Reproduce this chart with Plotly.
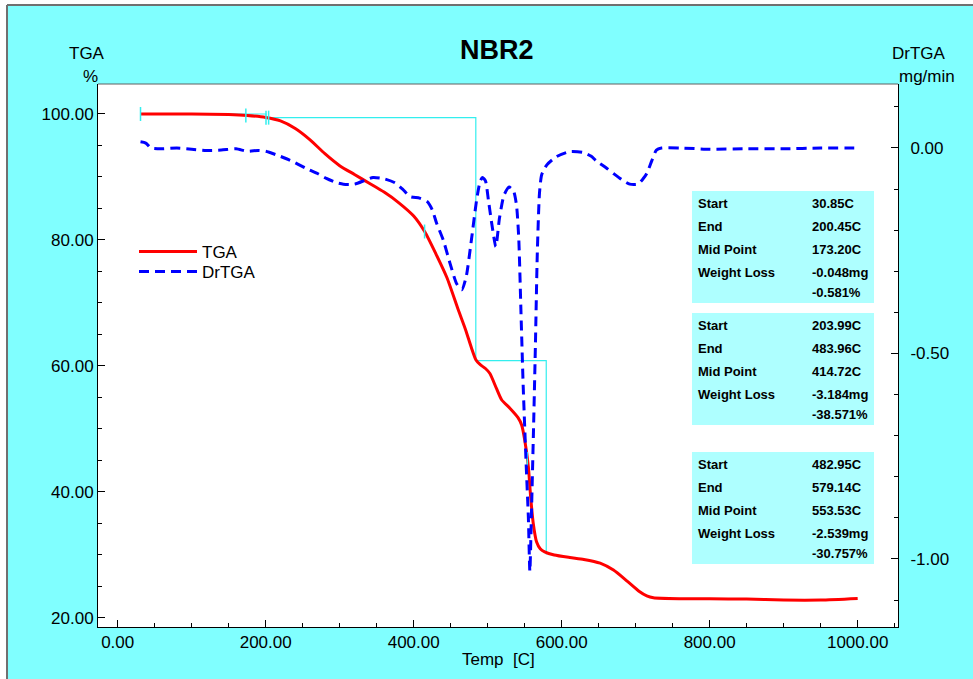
import numpy as np
import plotly.graph_objects as go

# ---------------- data ----------------
tga_temp = [30.85, 50, 100, 150, 175, 200, 220, 240, 260, 280, 300, 320, 340, 360, 380,
            400, 415, 430, 445, 460, 470, 478, 484, 490, 497, 503, 512, 519, 530, 541,
            546, 550, 555, 558, 561.6, 566, 571, 577, 590, 611, 630, 652, 670, 688, 705,
            715, 724, 760, 800, 850, 900, 950, 1000]
tga_pct = [100.0, 100.0, 100.0, 99.9, 99.75, 99.45, 98.9, 97.7, 95.9, 93.7, 91.8, 90.4, 89.0, 87.6, 85.9,
           83.8, 81.3, 77.8, 74.0, 69.0, 65.8, 62.9, 61.0, 60.2, 59.6, 58.8, 56.4, 54.6, 53.3, 51.8,
           50.6, 48.3, 44.0, 39.3, 35.0, 32.1, 31.0, 30.5, 30.0, 29.6, 29.3, 28.7, 27.6, 25.9, 24.2,
           23.5, 23.2, 23.05, 23.05, 23.0, 22.85, 22.85, 23.1]

dr_temp = [30.85, 38, 45, 60, 80, 100, 120, 140, 160, 175, 190, 200, 215, 233, 255, 270, 282,
           295, 305, 320, 335, 345, 360, 375, 385, 395, 408, 418, 425, 431, 440, 449, 458,
           465, 471, 478, 485, 490, 493, 497, 501, 506, 511, 516, 522, 529, 535, 539, 542,
           545, 548, 552, 555, 557, 559, 562, 564.5, 567, 570, 573, 580, 593, 611, 629, 640,
           647, 660, 670, 682, 692, 703, 710, 715, 722, 728, 735, 760, 800, 850, 900, 950, 1000]
dr_val = [0.015, 0.012, 0.0, -0.002, 0.0, -0.003, -0.006, -0.005, -0.002, -0.008, -0.006, -0.008,
          -0.017, -0.030, -0.050, -0.062, -0.074, -0.084, -0.088, -0.088, -0.078, -0.072, -0.075,
          -0.085, -0.100, -0.118, -0.122, -0.130, -0.150, -0.183, -0.224, -0.280, -0.330, -0.345,
          -0.313, -0.224, -0.127, -0.080, -0.072, -0.080, -0.127, -0.190, -0.240, -0.170, -0.115,
          -0.095, -0.105, -0.140, -0.220, -0.400, -0.580, -0.770, -0.900, -1.030, -0.900, -0.680,
          -0.480, -0.260, -0.110, -0.065, -0.041, -0.021, -0.009, -0.011, -0.020, -0.032, -0.048,
          -0.062, -0.078, -0.088, -0.088, -0.075, -0.062, -0.030, -0.005, 0.0, 0.0, -0.003,
          -0.002, -0.002, 0.0, 0.0]

step_start = [30.85, 203.99, 482.95]
step_end = [200.45, 483.96, 579.14]
step_mid = [173.20, 414.72, 553.53]
loss_mg = [-0.048, -3.184, -2.539]
loss_pct = [-0.581, -38.571, -30.757]
initial_level = 100.0

x_ticks = [0, 200, 400, 600, 800, 1000]
y_ticks = [20, 40, 60, 80, 100]
y2_ticks = [0.0, -0.5, -1.0]

# ---------------- layout geometry ----------------
W, H = 973, 679
L, R, T, B = 98, 898, 84, 627


def px(xp):
    return (xp - L) / (R - L)


def py(yp):
    return (B - yp) / (B - T)


FONT = "Liberation Sans, Arial, sans-serif"
CYAN_BG = "#80FFFF"
BOX_BG = "#AEFFFF"
STEP_C = "#33EEEE"

fig = go.Figure()

# step lines derived from the analysis table
sx, sy = [], []
level = initial_level
for s, e, lp in zip(step_start, step_end, loss_pct):
    sx += [s, e, e, None]
    sy += [level, level, level + lp, None]
    level += lp
fig.add_trace(go.Scatter(x=sx, y=sy, mode="lines", line=dict(color=STEP_C, width=1.2),
                         showlegend=False, hoverinfo="skip"))

# TGA
fig.add_trace(go.Scatter(x=tga_temp, y=tga_pct, mode="lines", name="TGA", legend="legend",
                         line=dict(color="#FF0000", width=3, shape="spline", smoothing=0.6)))

# small cyan marks (start/end of first step, midpoints on the curve)
mark_x = [step_start[0], step_end[0], step_start[1]] + step_mid
mark_y = [initial_level, initial_level + loss_pct[0], initial_level + loss_pct[0]] + \
    list(np.interp(step_mid, tga_temp, tga_pct))
fig.add_trace(go.Scatter(x=mark_x, y=mark_y, mode="markers", showlegend=False, hoverinfo="skip",
                         marker=dict(symbol="line-ns", size=10, line=dict(color=STEP_C, width=1.5))))

# DrTGA
fig.add_trace(go.Scatter(x=dr_temp, y=dr_val, mode="lines", name="DrTGA", yaxis="y2", legend="legend2",
                         line=dict(color="#0000FF", width=3, dash="10px,6px", shape="spline", smoothing=0.6)))

shapes = []
# white strips + gray window border
shapes.append(dict(type="rect", xref="paper", yref="paper", x0=px(0), x1=px(7), y0=py(H), y1=py(0),
                   line=dict(width=0), fillcolor="white", layer="below"))
shapes.append(dict(type="rect", xref="paper", yref="paper", x0=px(0), x1=px(W), y0=py(5), y1=py(0),
                   line=dict(width=0), fillcolor="white", layer="below"))
shapes.append(dict(type="line", xref="paper", yref="paper", x0=px(7), x1=px(7), y0=py(H), y1=py(5),
                   line=dict(color="#707070", width=2)))
shapes.append(dict(type="line", xref="paper", yref="paper", x0=px(7), x1=px(W), y0=py(5), y1=py(5),
                   line=dict(color="#707070", width=2)))
# top edge of plot area
shapes.append(dict(type="line", xref="paper", yref="paper", x0=0, x1=1, y0=1, y1=1,
                   line=dict(color="#606060", width=1)))

# result boxes
box_tops = [191, 313, 452]
annotations = []
for i, top in enumerate(box_tops):
    shapes.append(dict(type="rect", xref="paper", yref="paper", x0=px(692), x1=px(874),
                       y0=py(top + 112), y1=py(top), line=dict(width=0), fillcolor=BOX_BG, layer="below"))
    labels = ["Start", "End", "Mid Point", "Weight Loss", ""]
    values = [f"{step_start[i]:.2f}C", f"{step_end[i]:.2f}C", f"{step_mid[i]:.2f}C",
              f"{loss_mg[i]:.3f}mg", f"{loss_pct[i]:.3f}%"]
    offs = [12, 35, 58, 81, 101]
    for lab, val, o in zip(labels, values, offs):
        if lab:
            annotations.append(dict(x=px(696), y=py(top + o), xref="paper", yref="paper", text=lab,
                                    showarrow=False, xanchor="left", yanchor="middle",
                                    font=dict(family=FONT, size=13, color="black", weight="bold")))
        annotations.append(dict(x=px(810), y=py(top + o), xref="paper", yref="paper", text=val,
                                showarrow=False, xanchor="left", yanchor="middle",
                                font=dict(family=FONT, size=13, color="black", weight="bold")))

# titles
annotations.append(dict(x=px(497), y=py(50), xref="paper", yref="paper", text="<b>NBR2</b>",
                        showarrow=False, xanchor="center", yanchor="middle",
                        font=dict(family=FONT, size=27, color="black")))
for txt, xx, yy in [("TGA", 87, 54), ("%", 90, 76), ("DrTGA", 919, 54), ("mg/min", 927, 76),
                    ("Temp  [C]", 498, 659)]:
    annotations.append(dict(x=px(xx), y=py(yy), xref="paper", yref="paper", text=txt.replace("  ", "&nbsp;&nbsp;"),
                            showarrow=False, xanchor="center", yanchor="middle",
                            font=dict(family=FONT, size=17, color="black")))

tickfont = dict(family=FONT, size=17, color="black")
legfont = dict(family=FONT, size=17, color="black")
fig.update_layout(
    width=W, height=H,
    margin=dict(l=L, r=W - R, t=T, b=H - B, pad=0),
    paper_bgcolor=CYAN_BG, plot_bgcolor="white",
    showlegend=True,
    legend=dict(x=px(134), y=py(252), xanchor="left", yanchor="middle", bgcolor="rgba(0,0,0,0)",
                font=legfont, itemwidth=58),
    legend2=dict(x=px(134), y=py(272), xanchor="left", yanchor="middle", bgcolor="rgba(0,0,0,0)",
                 font=legfont, itemwidth=58),
    xaxis=dict(range=[-26.6, 1054.5], tickvals=x_ticks, ticktext=[f"{v:.2f}" for v in x_ticks],
               ticks="inside", ticklen=7, tickcolor="black", showline=True, linecolor="black",
               linewidth=1, showgrid=False, zeroline=False, tickfont=tickfont,
               minor=dict(dtick=50, tick0=0, ticks="inside", ticklen=4, tickcolor="black", showgrid=False)),
    yaxis=dict(range=[18.57, 104.76], tickvals=y_ticks, ticktext=[f"{v:.2f}" for v in y_ticks],
               ticks="inside", ticklen=7, tickcolor="black", showline=True, linecolor="black",
               linewidth=1, showgrid=False, zeroline=False, tickfont=tickfont, ticklabelstandoff=0,
               minor=dict(dtick=5, tick0=0, ticks="inside", ticklen=4, tickcolor="black", showgrid=False)),
    yaxis2=dict(range=[-1.1655, 0.1557], overlaying="y", side="right", tickvals=y2_ticks,
                ticktext=[f"{v:.2f}" for v in y2_ticks],
                ticks="inside", ticklen=7, tickcolor="black", showline=True, linecolor="black",
                linewidth=1, showgrid=False, zeroline=False, tickfont=tickfont, ticklabelstandoff=8,
                minor=dict(dtick=0.1, tick0=0, ticks="inside", ticklen=4, tickcolor="black", showgrid=False)),
    shapes=shapes, annotations=annotations,
)

fig.write_html("out.html", config={"displayModeBar": False},
               post_script="document.body.style.margin='0px';")
